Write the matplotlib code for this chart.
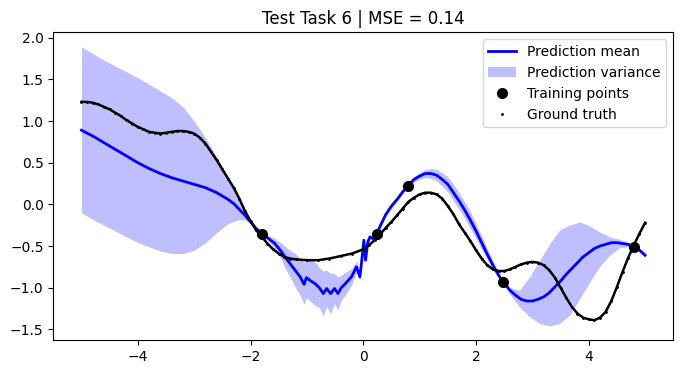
import matplotlib
matplotlib.use("Agg")
import matplotlib.pyplot as plt

# Prediction mean
mean_x = [-5.0, -4.8, -4.6, -4.4, -4.2, -4.0, -3.8, -3.6, -3.4, -3.2, -3.0, -2.8, -2.6, -2.4,
          -2.3, -2.2, -2.1, -2.0, -1.9, -1.8, -1.70, -1.57, -1.45, -1.39, -1.30, -1.21, -1.12,
          -1.05, -1.01, -0.93, -0.86, -0.78, -0.71, -0.65, -0.58, -0.51, -0.45, -0.39, -0.33,
          -0.21, -0.12, -0.06, -0.02, 0.01, 0.04, 0.08, 0.12, 0.17, 0.24, 0.3, 0.4, 0.5, 0.6,
          0.7, 0.79, 0.9, 1.0, 1.1, 1.2, 1.3, 1.4, 1.5, 1.6, 1.7, 1.8, 1.9, 2.0, 2.1, 2.2, 2.3,
          2.4, 2.47, 2.6, 2.7, 2.8, 2.9, 3.0, 3.1, 3.2, 3.3, 3.4, 3.5, 3.6, 3.7, 3.8, 3.9, 4.0,
          4.1, 4.2, 4.3, 4.4, 4.5, 4.6, 4.7, 4.8, 4.9, 5.0]
mean_y = [0.89, 0.82, 0.74, 0.66, 0.58, 0.50, 0.43, 0.37, 0.32, 0.28, 0.24, 0.20, 0.14, 0.06,
          0.01, -0.06, -0.13, -0.21, -0.29, -0.35, -0.40, -0.47, -0.57, -0.63, -0.71, -0.79, -0.87,
          -0.96, -0.88, -0.92, -0.95, -1.00, -1.07, -1.01, -1.07, -1.01, -1.07, -1.00, -0.96,
          -0.87, -0.75, -0.87, -0.63, -0.43, -0.67, -0.45, -0.39, -0.41, -0.35, -0.26, -0.12, -0.02, 0.06,
          0.15, 0.22, 0.30, 0.34, 0.37, 0.37, 0.35, 0.30, 0.24, 0.14, 0.04, -0.07, -0.19, -0.32, -0.46, -0.60, -0.73,
          -0.85, -0.92, -1.03, -1.09, -1.14, -1.16, -1.16, -1.14, -1.11, -1.06, -0.99, -0.92, -0.84, -0.77, -0.70, -0.63, -0.58,
          -0.53, -0.50, -0.48, -0.46, -0.46, -0.47, -0.48, -0.51, -0.55, -0.61]

# Prediction variance band (upper / lower edge)
band_x = [-5.0, -4.8, -4.6, -4.4, -4.2, -4.0, -3.8, -3.6, -3.4, -3.2, -3.0, -2.8, -2.6, -2.4,
          -2.2, -2.1, -2.0, -1.9, -1.8, -1.70, -1.57, -1.45, -1.39, -1.30, -1.21, -1.12, -1.05,
          -1.01, -0.93, -0.86, -0.78, -0.71, -0.65, -0.58, -0.51, -0.45, -0.39, -0.33, -0.21,
          -0.12, -0.06, -0.02, 0.01, 0.04, 0.08, 0.12, 0.17, 0.24, 0.4, 0.6, 0.79, 0.9, 1.0, 1.1,
          1.2, 1.3, 1.4, 1.5, 1.6, 1.7, 1.8, 1.9, 2.0, 2.1, 2.2, 2.3, 2.4, 2.47, 2.6, 2.77, 2.95,
          3.13, 3.31, 3.48, 3.66, 3.84, 4.02, 4.19, 4.37, 4.55, 4.70, 4.80, 4.90, 5.0]
band_hi = [1.89, 1.81, 1.73, 1.66, 1.59, 1.52, 1.44, 1.36, 1.28, 1.17, 1.00, 0.80, 0.57, 0.32,
           0.06, -0.06, -0.18, -0.28, -0.34, -0.37, -0.41, -0.47, -0.50, -0.55, -0.59, -0.65, -0.70,
           -0.64, -0.67, -0.69, -0.76, -0.80, -0.79, -0.83, -0.83, -0.87, -0.85, -0.82, -0.77,
           -0.68, -0.82, -0.59, -0.40, -0.64, -0.42, -0.37, -0.39, -0.34, -0.10, 0.08, 0.23, 0.33, 0.38, 0.42,
           0.43, 0.42, 0.38, 0.33, 0.24, 0.14, 0.03, -0.09, -0.23, -0.38, -0.53, -0.68, -0.82, -0.91, -1.00, -1.03, -0.87,
           -0.67, -0.47, -0.31, -0.25, -0.21, -0.26, -0.33, -0.39, -0.42, -0.46, -0.50, -0.53, -0.58]
band_lo = [-0.10, -0.18, -0.25, -0.32, -0.39, -0.46, -0.51, -0.56, -0.59, -0.59, -0.55, -0.46, -0.34, -0.23,
           -0.18, -0.19, -0.23, -0.30, -0.36, -0.43, -0.53, -0.67, -0.76, -0.87, -0.99, -1.09, -1.20,
           -1.12, -1.17, -1.21, -1.24, -1.34, -1.23, -1.31, -1.19, -1.27, -1.15, -1.10, -0.97,
           -0.82, -0.92, -0.67, -0.46, -0.70, -0.48, -0.41, -0.43, -0.36, -0.14, 0.04, 0.21, 0.27, 0.30, 0.32,
           0.31, 0.28, 0.22, 0.15, 0.04, -0.06, -0.17, -0.29, -0.41, -0.54, -0.67, -0.78, -0.88, -0.93, -1.08, -1.23, -1.35,
           -1.43, -1.46, -1.43, -1.33, -1.13, -0.93, -0.75, -0.61, -0.52, -0.51, -0.52, -0.57, -0.64]

# Training points
train_x = [-1.80, 0.24, 0.79, 2.47, 4.80]
train_y = [-0.35, -0.35, 0.22, -0.93, -0.51]

# Ground truth
gt_x = [-5.0, -4.9, -4.8, -4.7, -4.6, -4.5, -4.4, -4.3, -4.2, -4.1, -4.0, -3.9, -3.8, -3.7,
        -3.6, -3.5, -3.4, -3.3, -3.2, -3.1, -3.0, -2.9, -2.8, -2.7, -2.6, -2.5, -2.4, -2.3,
        -2.2, -2.1, -2.0, -1.9, -1.8, -1.7, -1.6, -1.5, -1.4, -1.3, -1.2, -1.0, -0.8, -0.6,
        -0.4, -0.2, 0.0, 0.1, 0.2, 0.3, 0.4, 0.5, 0.6, 0.7, 0.8, 0.9, 1.0, 1.1, 1.2, 1.3, 1.4,
        1.5, 1.6, 1.7, 1.8, 1.9, 2.0, 2.1, 2.2, 2.3, 2.4, 2.5, 2.6, 2.7, 2.8, 2.9, 3.0, 3.1,
        3.2, 3.3, 3.4, 3.5, 3.6, 3.7, 3.8, 3.9, 4.0, 4.1, 4.2, 4.3, 4.4, 4.5, 4.6, 4.7, 4.8,
        4.9, 5.0]
gt_y = [1.23, 1.23, 1.22, 1.20, 1.17, 1.14, 1.10, 1.06, 1.01, 0.97, 0.93, 0.90, 0.87, 0.86,
        0.85, 0.86, 0.87, 0.88, 0.88, 0.87, 0.85, 0.80, 0.73, 0.63, 0.53, 0.42, 0.31, 0.20,
        0.07, -0.08, -0.20, -0.31, -0.39, -0.47, -0.54, -0.59, -0.63, -0.65, -0.66, -0.67, -0.67, -0.65,
        -0.62, -0.59, -0.54, -0.49, -0.43, -0.36, -0.28, -0.21, -0.13, -0.05, 0.03, 0.08, 0.12, 0.14, 0.14, 0.12, 0.07,
        -0.02, -0.12, -0.24, -0.34, -0.44, -0.55, -0.65, -0.73, -0.78, -0.80, -0.80, -0.78, -0.75, -0.72, -0.70, -0.69, -0.70,
        -0.73, -0.79, -0.88, -1.00, -1.12, -1.23, -1.31, -1.36, -1.38, -1.39, -1.36, -1.29, -1.16, -0.99, -0.81, -0.64, -0.49,
        -0.35, -0.22]

title = "Test Task 6 | MSE = 0.14"

fig = plt.figure(figsize=(6.83, 3.74), dpi=100)
ax = fig.add_axes([0.078, 0.0909, 0.9078, 0.8227])

ax.plot(mean_x, mean_y, color="blue", lw=2, label="Prediction mean", zorder=3)
ax.fill_between(band_x, band_lo, band_hi, color="blue", alpha=0.25, lw=0,
                label="Prediction variance", zorder=1)
ax.plot(train_x, train_y, "ko", markersize=7, label="Training points", zorder=5)
ax.plot(gt_x, gt_y, color="black", lw=1.8, zorder=4, label="_nolegend_")
ax.plot(gt_x, gt_y, "k.", markersize=2, zorder=4, label="Ground truth")

ax.set_title(title, fontsize=12)
ax.legend(loc="upper right")
ax.set_xlim(-5.5, 5.5)
ax.set_ylim(-1.628, 2.065)

fig.savefig("out.png", dpi=100)
